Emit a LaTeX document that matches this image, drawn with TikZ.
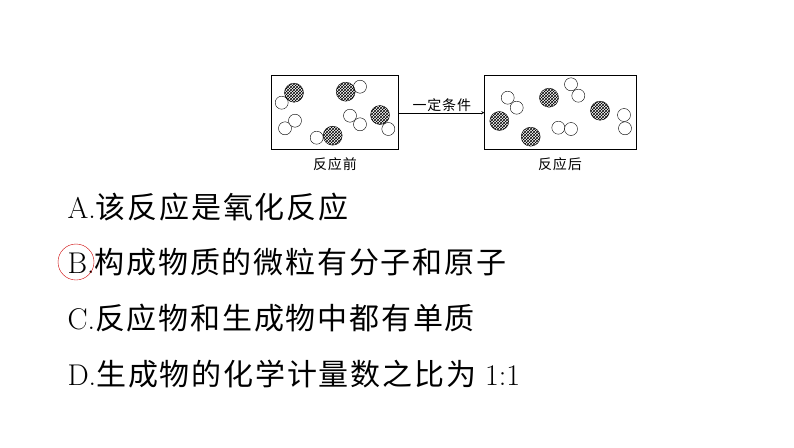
\documentclass[tikz,border=0pt]{standalone}
\usepackage{fontspec}
\newfontfamily\cjk[LetterSpace=6]{Noto Sans CJK SC}
\usetikzlibrary{patterns}
\tikzset{
  frame/.style={draw, thick},
  atomw/.style={draw, fill=white, circle, minimum size=13pt, inner sep=0pt},
  atomd/.style={draw, circle, minimum size=19pt, inner sep=0pt, pattern=crosshatch},
  option/.style={anchor=west, font=\fontsize{30}{30}\selectfont},
  caption/.style={font=\cjk\fontsize{14}{14}\selectfont}
}
\begin{document}
\begin{tikzpicture}[x=1pt, y=-1pt]
        \useasboundingbox (0,0) rectangle (794,447);
        % Draw the two boxes
        \node[frame, minimum width=127pt, minimum height=74pt] (before) at (335.3,112) {};
        \node[frame, minimum width=152pt, minimum height=74pt] (after) at (560.8,112) {};
        \node[caption] (lblb) at (335,164) {反应前};
        \node[caption] (lbla) at (560,164) {反应后};

        % Molecules before the reaction
        \node[atomw] (b1) at (281.7,102.7) {};
        \node[atomd] (b2) at (294,92.7) {};
        \node[atomw] (b3) at (360,86.7) {};
        \node[atomd] (b4) at (345.7,91.7) {};
        \node[atomw] (b5) at (285,128.3) {};
        \node[atomw] (b6) at (295,120.7) {};
        \node[atomw] (b7) at (350,115.7) {};
        \node[atomw] (b8) at (360,124.3) {};
        \node[atomw] (b9) at (388.3,129) {};
        \node[atomd] (b10) at (380,115) {};
        \node[atomw] (b11) at (316.7,137.7) {};
        \node[atomd] (b12) at (332.7,135.7) {};

        % Molecules after the reaction
        \node[atomw] (a1) at (507.7,97.7) {};
        \node[atomw] (a2) at (516.7,107.7) {};
        \node[atomd] (a3) at (499.3,121) {};
        \node[atomd] (a4) at (530.7,136.7) {};
        \node[atomd] (a5) at (549,97.7) {};
        \node[atomw] (a6) at (571,84.3) {};
        \node[atomw] (a7) at (578.3,95.7) {};
        \node[atomw] (a8) at (558.3,127.7) {};
        \node[atomw] (a9) at (571,129) {};
        \node[atomd] (a10) at (600,110.7) {};
        \node[atomw] (a11) at (624,115) {};
        \node[atomw] (a12) at (625,128.3) {};

        % Arrow between the boxes
        \draw[-stealth] (before.east |- 0,112.7) -- node[above, caption, yshift=-2pt] {一定条件} (after.west |- 0,112.7);

        % Answer options
        \node[option] (optA) at (64,207) {A.{\cjk 该反应是氧化反应}};
        \node[option] (optB) at (64,262) {B.{\cjk 构成物质的微粒有分子和原子}};
        \node[option] (optC) at (64,318) {C.{\cjk 反应物和生成物中都有单质}};
        \node[option] (optD) at (64,374) {D.{\cjk 生成物的化学计量数之比为} 1:1};
        \draw[red!80!black] (76,262) circle (18);
\end{tikzpicture}
\end{document}
